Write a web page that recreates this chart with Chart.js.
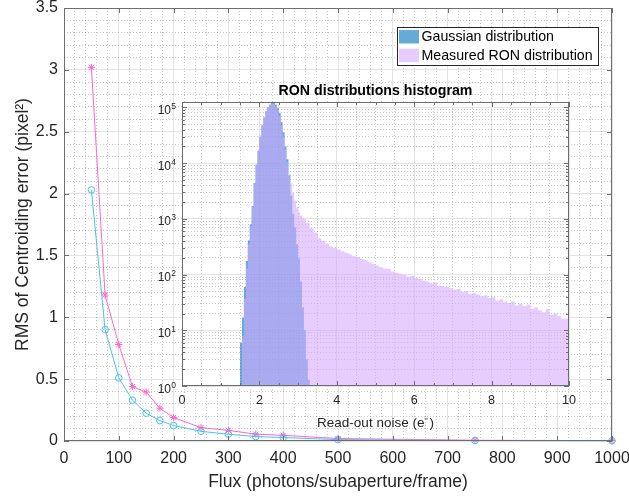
<!DOCTYPE html>
<html>
<head>
<meta charset="utf-8">
<script src="https://cdn.jsdelivr.net/npm/chart.js@4.4.1/dist/chart.umd.min.js"></script>
<style>
  html, body { margin: 0; padding: 0; background: #fff; }
  #wrap { position: relative; width: 629px; height: 498px; }
  #wrap canvas { position: absolute; left: 0; top: 0; }
  #insetChart { pointer-events: none; }
</style>
</head>
<body>
<div id="wrap">
  <canvas id="mainChart" width="629" height="498"></canvas>
  <canvas id="insetChart" width="629" height="498"></canvas>
</div>
<script>
// ----------------------------------------
// Data
// ----------------------------------------

// Main plot: RMS of centroiding error vs flux
var flux = [50, 75, 100, 125, 150, 175, 200, 250, 300, 350, 400, 500, 750, 1000];
var rmsGauss = [2.03, 0.90, 0.51, 0.33, 0.225, 0.165, 0.125, 0.078, 0.055, 0.036, 0.028, 0.011, 0.004, 0.002];
var rmsMeasured = [3.02, 1.18, 0.78, 0.44, 0.395, 0.265, 0.19, 0.108, 0.086, 0.055, 0.046, 0.02, 0.006, 0.003];

// Inset histogram: bin left edges and counts
var gaussEdges = [1.50, 1.55, 1.60, 1.65, 1.70, 1.75, 1.80, 1.85, 1.90, 1.95,
                  2.00, 2.05, 2.10, 2.15, 2.20, 2.25, 2.30, 2.35, 2.40, 2.45,
                  2.50, 2.55, 2.60, 2.65, 2.70, 2.75, 2.80, 2.85, 2.90, 2.95,
                  3.00, 3.05, 3.10, 3.15, 3.20, 3.25, 3.30, 3.35];
var gaussCounts = [1, 6, 17, 60, 175, 410, 790, 1700, 4400, 9400,
                   16500, 29500, 48000, 65000, 86000, 101000, 113000, 122000, 124000, 113000,
                   97000, 80000, 54000, 36000, 20000, 11800, 6000, 2600, 1240, 700,
                   350, 195, 75, 26, 10, 3, 1.3, 1];

var ronEdges = [1.55, 1.60, 1.65, 1.70, 1.75, 1.80, 1.85, 1.90, 1.95,
                2.00, 2.05, 2.10, 2.15, 2.20, 2.25, 2.30, 2.35, 2.40, 2.45,
                2.50, 2.55, 2.60, 2.65, 2.70, 2.75, 2.80, 2.85, 2.90, 2.95,
                3.00, 3.05, 3.10, 3.15,
                3.2, 3.3, 3.4, 3.5, 3.6, 3.7, 3.8, 3.9,
                4.0, 4.1, 4.2, 4.3, 4.4, 4.5, 4.6, 4.7, 4.8, 4.9,
                5.0, 5.1, 5.2, 5.3, 5.4, 5.5, 5.6, 5.7, 5.8, 5.9,
                6.0, 6.1, 6.2, 6.3, 6.4, 6.5, 6.6, 6.7, 6.8, 6.9,
                7.0, 7.1, 7.2, 7.3, 7.4, 7.5, 7.6, 7.7, 7.8, 7.9,
                8.0, 8.1, 8.2, 8.3, 8.4, 8.5, 8.6, 8.7, 8.8, 8.9,
                9.0, 9.1, 9.2, 9.3, 9.4, 9.5, 9.6, 9.7, 9.8, 9.9, 10.0];
var ronCounts = [1, 8, 37, 130, 350, 730, 1650, 4400, 9600,
                 17700, 32000, 50000, 69000, 87000, 102000, 111000, 117000, 117000, 106000,
                 89000, 70000, 48000, 30000, 17700, 10500, 6300, 4300, 2900, 2130,
                 1620, 1340, 1140, 1050,
                 980, 840, 675, 570, 450, 405, 360, 318,
                 300, 282, 262, 246, 232, 214, 206, 190, 180, 166,
                 156, 145, 136, 128, 126, 114, 108, 104, 99, 92,
                 95, 86, 83, 78, 75, 70, 72, 63, 62, 60,
                 57, 54, 55, 49, 50, 45, 47, 44, 41, 42,
                 38, 39, 34, 36, 32, 31, 33, 28, 30, 27,
                 29, 24, 26, 23, 21, 24, 19, 20, 18, 16, 16];

var histLabels = ['Gaussian distribution', 'Measured RON distribution'];
var histMax = 125000;

// ----------------------------------------
// Common settings
// ----------------------------------------
var FONT = "'Liberation Sans', Arial, Helvetica, sans-serif";
Chart.defaults.font.family = FONT;
Chart.defaults.color = '#262626';

var GRID = '#e3e3e3';
var MINOR = 'rgba(0,0,0,0.22)';
var AXIS = '#6e6e6e';

function toPoints(xs, ys) {
    return xs.map(function (x, i) { return { x: x, y: ys[i] }; });
}

function isDecade(v) {
    var e = Math.log10(v);
    return Math.abs(e - Math.round(e)) < 1e-9;
}

function isWholeSignificand(v) {
    var s = v / Math.pow(10, Math.floor(Math.log10(v) + 1e-9));
    return Math.abs(s - Math.round(s)) < 1e-6;
}

function isMultiple(v, step) {
    var r = v / step;
    return Math.abs(r - Math.round(r)) < 1e-6;
}

// box around the plot area + inward tick marks (MATLAB style)
function axisBox(fill, marks) {
    return {
        id: 'axisBox',
        beforeDraw: function (chart) {
            if (!fill) return;
            var a = chart.chartArea, ctx = chart.ctx;
            ctx.save();
            ctx.fillStyle = fill;
            ctx.fillRect(a.left, a.top, a.right - a.left, a.bottom - a.top);
            ctx.restore();
        },
        afterDraw: function (chart) {
            var a = chart.chartArea, ctx = chart.ctx;
            ctx.save();
            ctx.strokeStyle = AXIS;
            ctx.lineWidth = 1;
            ctx.beginPath();
            marks.forEach(function (m) {
                var scale = chart.scales[m.id];
                scale.ticks.forEach(function (t) {
                    if (m.keep && !m.keep(t.value)) return;
                    var p = Math.round(scale.getPixelForValue(t.value)) + 0.5;
                    if (scale.isHorizontal()) {
                        ctx.moveTo(p, a.bottom); ctx.lineTo(p, a.bottom - m.len);
                        ctx.moveTo(p, a.top); ctx.lineTo(p, a.top + m.len);
                    } else {
                        ctx.moveTo(a.left, p); ctx.lineTo(a.left + m.len, p);
                        ctx.moveTo(a.right, p); ctx.lineTo(a.right - m.len, p);
                    }
                });
            });
            ctx.stroke();
            ctx.strokeRect(Math.round(a.left) + 0.5, Math.round(a.top) + 0.5,
                Math.round(a.right - a.left) - 1, Math.round(a.bottom - a.top) - 1);
            ctx.restore();
        }
    };
}

// ----------------------------------------
// Main chart
// ----------------------------------------
new Chart(document.getElementById('mainChart'), {
    type: 'line',
    data: {
        datasets: [{
            label: 'Gaussian',
            data: toPoints(flux, rmsGauss),
            xAxisID: 'x', yAxisID: 'y',
            borderColor: '#4dbeee',
            backgroundColor: 'rgba(0,0,0,0)',
            borderWidth: 1,
            pointStyle: 'circle',
            pointRadius: 3.3,
            pointBorderWidth: 1,
            pointBorderColor: '#4dbeee',
            pointBackgroundColor: 'rgba(0,0,0,0)',
            clip: false
        }, {
            label: 'Measured',
            data: toPoints(flux, rmsMeasured),
            xAxisID: 'x', yAxisID: 'y',
            borderColor: '#ff66cc',
            backgroundColor: 'rgba(0,0,0,0)',
            borderWidth: 1,
            pointStyle: 'star',
            pointRadius: 3.6,
            pointBorderWidth: 1,
            pointBorderColor: '#ff66cc',
            clip: false
        }]
    },
    options: {
        responsive: false,
        animation: false,
        events: [],
        layout: { padding: { top: 8, right: 17, left: 0, bottom: 0 } },
        plugins: { legend: { display: false }, tooltip: { enabled: false } },
        scales: {
            x: {
                type: 'linear', position: 'bottom', min: 0, max: 1000,
                ticks: {
                    stepSize: 100, autoSkip: false, maxRotation: 0, padding: 8,
                    font: { size: 16 },
                    callback: function (v) { return String(v); }
                },
                grid: { color: GRID, drawTicks: false },
                border: { display: false },
                title: {
                    display: true, text: 'Flux (photons/subaperture/frame)',
                    font: { size: 17.5 }, padding: { top: 0, bottom: 5 }
                },
                afterFit: function (s) { s.height = 57; s.paddingLeft = 0; s.paddingRight = 0; }
            },
            y: {
                type: 'linear', position: 'left', min: 0, max: 3.5,
                ticks: {
                    stepSize: 0.5, autoSkip: false, padding: 6,
                    font: { size: 16 },
                    callback: function (v) { return String(Math.round(v * 10) / 10); }
                },
                grid: { color: GRID, drawTicks: false },
                border: { display: false },
                title: {
                    display: true, text: 'RMS of Centroiding error (pixel\u00b2)',
                    font: { size: 17.5 }, padding: { top: 13, bottom: 0 }
                },
                afterFit: function (s) { s.width = 64; s.paddingTop = 0; s.paddingBottom = 0; }
            },
            xMinor: {
                type: 'linear', position: 'bottom', min: 0, max: 1000,
                ticks: { display: false, stepSize: 20 },
                grid: {
                    drawTicks: false,
                    color: function (c) { return isMultiple(c.tick.value, 100) ? 'rgba(0,0,0,0)' : MINOR; }
                },
                border: { display: false, dash: [1, 2] },
                afterFit: function (s) { s.height = 0; s.paddingLeft = 0; s.paddingRight = 0; }
            },
            yMinor: {
                type: 'linear', position: 'left', min: 0, max: 3.5,
                ticks: { display: false, stepSize: 0.1 },
                grid: {
                    drawTicks: false,
                    color: function (c) { return isMultiple(c.tick.value, 0.5) ? 'rgba(0,0,0,0)' : MINOR; }
                },
                border: { display: false, dash: [1, 2] },
                afterFit: function (s) { s.width = 0; s.paddingTop = 0; s.paddingBottom = 0; }
            }
        }
    },
    plugins: [axisBox(null, [{ id: 'x', len: 5 }, { id: 'y', len: 5 }])]
});

// ----------------------------------------
// Inset histogram
// ----------------------------------------

// legend box in the upper right corner
var legendPlugin = {
    id: 'boxLegend',
    afterDraw: function (chart) {
        var ctx = chart.ctx;
        var ds = chart.data.datasets;
        ctx.save();
        ctx.fillStyle = '#fff';
        ctx.fillRect(397.5, 27.5, 201, 38);
        ctx.strokeStyle = '#262626';
        ctx.lineWidth = 1;
        ctx.strokeRect(397.5, 27.5, 201, 38);
        ctx.font = '14.2px ' + FONT;
        ctx.textBaseline = 'middle';
        ctx.textAlign = 'left';
        ds.forEach(function (d, i) {
            var y = 30 + i * 18.7;
            ctx.fillStyle = d.backgroundColor;
            ctx.fillRect(399, y, 20, 13.5);
            ctx.fillStyle = '#000';
            ctx.fillText(d.label, 421.5, y + 7.5);
        });
        ctx.restore();
    }
};

// "10^n" labels of the log axis, with a real superscript
var powerLabels = {
    id: 'powerLabels',
    afterDraw: function (chart) {
        var ctx = chart.ctx, scale = chart.scales.y;
        var right = scale.right - 6;
        ctx.save();
        ctx.fillStyle = '#262626';
        ctx.textAlign = 'right';
        ctx.textBaseline = 'alphabetic';
        scale.ticks.forEach(function (t) {
            if (!isDecade(t.value)) return;
            var p = scale.getPixelForValue(t.value);
            var exp = String(Math.round(Math.log10(t.value)));
            ctx.font = '8.5px ' + FONT;
            var ew = ctx.measureText(exp).width;
            ctx.fillText(exp, right, p + 1.5);
            ctx.font = '12px ' + FONT;
            ctx.fillText('10', right - ew - 0.3, p + 6.5);
        });
        ctx.restore();
    }
};

new Chart(document.getElementById('insetChart'), {
    type: 'line',
    data: {
        datasets: [{
            label: histLabels[0],
            data: toPoints(gaussEdges, gaussCounts),
            xAxisID: 'x', yAxisID: 'y',
            stepped: 'after',
            fill: 'start',
            backgroundColor: 'rgba(0,114,189,0.6)',
            borderColor: 'rgba(0,0,0,0)',
            borderWidth: 0,
            pointRadius: 0,
            order: 1
        }, {
            label: histLabels[1],
            data: toPoints(ronEdges, ronCounts),
            xAxisID: 'x', yAxisID: 'y',
            stepped: 'after',
            fill: 'start',
            backgroundColor: 'rgba(213,170,255,0.6)',
            borderColor: 'rgba(0,0,0,0)',
            borderWidth: 0,
            pointRadius: 0,
            order: 0
        }]
    },
    options: {
        responsive: false,
        animation: false,
        events: [],
        layout: { padding: { top: 0, right: 60, left: 0, bottom: 0 } },
        plugins: {
            legend: { display: false },
            tooltip: { enabled: false },
            title: {
                display: true, text: 'RON distributions histogram',
                fullSize: false, color: '#000',
                font: { size: 14.2, weight: 'bold' },
                padding: { top: 82.5, bottom: 2.5 }
            }
        },
        scales: {
            x: {
                type: 'linear', position: 'bottom', min: 0, max: 10,
                ticks: {
                    stepSize: 2, autoSkip: false, maxRotation: 0, padding: 7,
                    font: { size: 12.6 },
                    callback: function (v) { return String(v); }
                },
                grid: { color: GRID, drawTicks: false },
                border: { display: false },
                title: {
                    display: true, text: 'Read-out noise (e\u207b)',
                    font: { size: 13.5 }, padding: { top: 0, bottom: 67 }
                },
                afterFit: function (s) { s.height = 112; s.paddingLeft = 0; s.paddingRight = 0; }
            },
            y: {
                type: 'logarithmic', position: 'left', min: 1, max: histMax,
                ticks: { display: false, autoSkip: false },
                grid: {
                    drawTicks: false,
                    color: function (c) { return isDecade(c.tick.value) ? GRID : 'rgba(0,0,0,0)'; }
                },
                border: { display: false },
                afterFit: function (s) { s.width = 182; s.paddingTop = 0; s.paddingBottom = 0; }
            },
            xMinor: {
                type: 'linear', position: 'bottom', min: 0, max: 10,
                ticks: { display: false, stepSize: 0.5 },
                grid: {
                    drawTicks: false,
                    color: function (c) { return isMultiple(c.tick.value, 2) ? 'rgba(0,0,0,0)' : MINOR; }
                },
                border: { display: false, dash: [1, 2] },
                afterFit: function (s) { s.height = 0; s.paddingLeft = 0; s.paddingRight = 0; }
            },
            yMinor: {
                type: 'logarithmic', position: 'left', min: 1, max: histMax,
                ticks: { display: false, autoSkip: false },
                grid: {
                    drawTicks: false,
                    color: function (c) {
                        var v = c.tick.value;
                        return (!isDecade(v) && isWholeSignificand(v)) ? MINOR : 'rgba(0,0,0,0)';
                    }
                },
                border: { display: false, dash: [1, 2] },
                afterFit: function (s) { s.width = 0; s.paddingTop = 0; s.paddingBottom = 0; }
            }
        }
    },
    plugins: [
        axisBox('#ffffff', [
            { id: 'x', len: 5 },
            { id: 'xMinor', len: 3 },
            { id: 'y', len: 5, keep: isDecade },
            { id: 'yMinor', len: 3, keep: isWholeSignificand }
        ]),
        powerLabels,
        legendPlugin
    ]
});
</script>
</body>
</html>
